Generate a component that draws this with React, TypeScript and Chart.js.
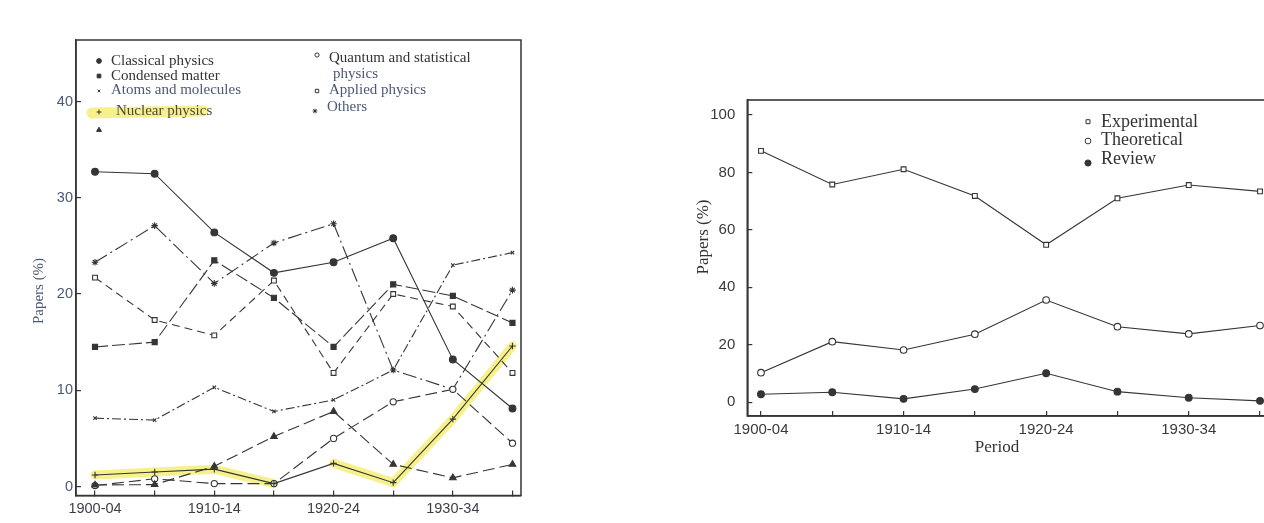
import React, { useEffect, useRef } from 'react';
import { Chart, registerables } from 'chart.js';
import { drawPoint } from 'chart.js/helpers';

Chart.register(...registerables);

// ---------- data ----------
const periods = ['1900-04', '1905-09', '1910-14', '1915-19', '1920-24', '1925-29', '1930-34', '1935-39'];

// left panel: papers (%) by field
const classicalPhysics = [32.7, 32.5, 26.4, 22.2, 23.3, 25.8, 13.2, 8.1];
const condensedMatter = [14.5, 15.0, 23.5, 19.6, 14.5, 21.0, 19.8, 17.0];
const atomsMolecules = [7.1, 6.9, 10.3, 7.8, 9.0, 12.1, 23.0, 24.3];
const nuclearPhysics = [1.2, 1.5, 1.8, 0.3, 2.4, 0.4, 7.0, 14.6];
const unlabeledField = [0.15, 0.2, 2.1, 5.2, 7.8, 2.3, 0.9, 2.3];
const quantumStatistical = [0.1, 0.8, 0.3, 0.3, 5.0, 8.8, 10.1, 4.5];
const appliedPhysics = [21.7, 17.3, 15.7, 21.4, 11.8, 20.0, 18.7, 11.8];
const otherFields = [23.3, 27.1, 21.1, 25.3, 27.3, 12.1, 10.1, 20.4];

// right panel: papers (%) by type
const experimental = [87.5, 75.8, 81.1, 71.8, 54.8, 71.0, 75.6, 73.4];
const theoretical = [10.3, 21.1, 18.2, 23.7, 35.6, 26.3, 23.8, 26.7];
const review = [2.8, 3.5, 1.2, 4.6, 10.1, 3.7, 1.6, 0.5];

const leftYTicks = { step: 10 };
const rightYTicks = { step: 20 };

// ---------- styles ----------
const INK = '#353535';
const BLUEINK = '#4c5877';
const HL = 'rgba(240, 232, 60, 0.6)';
const SERIF = '"Liberation Serif", "Times New Roman", serif';
const SANS = '"Liberation Sans", Arial, sans-serif';

const xy = (arr: number[]) => arr.map((y, x) => ({ x, y }));

const lineDs = (label: string, values: number[], extra: any) => ({
  type: 'line',
  label,
  data: xy(values),
  borderColor: INK,
  borderWidth: 1.1,
  pointBorderColor: INK,
  pointBorderWidth: 1.1,
  pointBackgroundColor: INK,
  fill: false,
  tension: 0,
  clip: false,
  ...extra,
});

// frame around the plot area
const makeFramePlugin = (color: string, width: number) => ({
  id: 'frame',
  afterDraw(chart: any) {
    const { ctx, chartArea: a } = chart;
    ctx.save();
    ctx.strokeStyle = color;
    ctx.lineWidth = width;
    ctx.strokeRect(a.left, a.top, a.right - a.left, a.bottom - a.top);
    ctx.restore();
  },
});

// axis titles
const makeTitlesPlugin = (items: any[]) => ({
  id: 'axisTitles',
  afterDraw(chart: any) {
    const { ctx } = chart;
    for (const t of items) {
      ctx.save();
      ctx.translate(t.x, t.y);
      ctx.rotate(t.rotate || 0);
      ctx.font = t.font;
      ctx.fillStyle = t.color;
      ctx.textAlign = 'center';
      ctx.textBaseline = 'middle';
      ctx.fillText(t.text, 0, 0);
      ctx.restore();
    }
  },
});

// free-placed legend that reads labels & markers from the datasets
const makeLegendPlugin = (entries: any[], font: string) => ({
  id: 'freeLegend',
  afterDraw(chart: any) {
    const { ctx } = chart;
    ctx.save();
    for (const e of entries) {
      const ds = chart.data.datasets[e.ds];
      if (e.highlight) {
        ctx.save();
        ctx.strokeStyle = HL;
        ctx.lineWidth = e.highlight.w;
        ctx.lineCap = 'round';
        ctx.beginPath();
        ctx.moveTo(e.highlight.x0, e.highlight.y0);
        ctx.lineTo(e.highlight.x1, e.highlight.y1);
        ctx.stroke();
        ctx.restore();
      }
      ctx.save();
      ctx.fillStyle = ds.pointBackgroundColor;
      ctx.strokeStyle = ds.pointBorderColor;
      ctx.lineWidth = 1;
      drawPoint(ctx, { pointStyle: ds.pointStyle, radius: e.r, rotation: 0, borderWidth: 1 }, e.mx, e.my);
      ctx.restore();
      if (ds.label) {
        ctx.font = font;
        ctx.fillStyle = e.color || INK;
        ctx.textAlign = 'left';
        ctx.textBaseline = 'middle';
        const words = String(ds.label).split(' ');
        let first = ds.label;
        let rest = '';
        if (e.maxWidth && ctx.measureText(ds.label).width > e.maxWidth) {
          let i = words.length;
          while (i > 1 && ctx.measureText(words.slice(0, i).join(' ')).width > e.maxWidth) i--;
          first = words.slice(0, i).join(' ');
          rest = words.slice(i).join(' ');
        }
        ctx.fillText(first, e.tx, e.ty);
        if (rest) {
          ctx.fillStyle = e.color2 || ctx.fillStyle;
          ctx.fillText(rest, e.tx2, e.ty2);
        }
      }
    }
    ctx.restore();
  },
});

const periodTick = (v: any) => {
  const i = Number(v);
  return Number.isInteger(i) && i % 2 === 0 ? periods[i] : '';
};

export default function App() {
  const leftRef = useRef<HTMLCanvasElement>(null);
  const rightRef = useRef<HTMLCanvasElement>(null);

  useEffect(() => {
    const left = new Chart(leftRef.current as HTMLCanvasElement, {
      type: 'line',
      data: {
        datasets: [
          lineDs('Classical physics', classicalPhysics, { pointStyle: 'circle', pointRadius: 3.4 }),
          lineDs('Condensed matter', condensedMatter, { pointStyle: 'rect', pointRadius: 3.6, borderDash: [13, 4] }),
          lineDs('Atoms and molecules', atomsMolecules, { pointStyle: 'crossRot', pointRadius: 2.4, borderDash: [9, 3, 2, 3] }),
          lineDs('Nuclear physics', nuclearPhysics, { pointStyle: 'cross', pointRadius: 3.2 }),
          lineDs('', unlabeledField, { pointStyle: 'triangle', pointRadius: 3.8, borderDash: [12, 5] }),
          lineDs('Quantum and statistical physics', quantumStatistical, {
            pointStyle: 'circle', pointRadius: 3.1, pointBackgroundColor: '#ffffff', borderDash: [12, 5],
          }),
          lineDs('Applied physics', appliedPhysics, {
            pointStyle: 'rect', pointRadius: 3.4, pointBackgroundColor: '#ffffff', borderDash: [8, 5],
          }),
          lineDs('Others', otherFields, { pointStyle: 'star', pointRadius: 3.3, borderDash: [14, 4, 2, 4] }),
          {
            type: 'line',
            label: 'highlight',
            data: xy(nuclearPhysics),
            borderColor: HL,
            borderWidth: 9,
            borderCapStyle: 'round',
            pointRadius: 0,
            tension: 0,
            order: 20,
            clip: false,
            segment: { borderColor: (c: any) => (c.p0DataIndex === 3 ? 'rgba(0,0,0,0)' : HL) },
          },
        ],
      } as any,
      options: {
        responsive: false,
        animation: false,
        devicePixelRatio: 1,
        events: [],
        layout: { padding: { left: 0, top: 40, right: 9, bottom: 0 } },
        plugins: { legend: { display: false }, tooltip: { enabled: false } },
        scales: {
          x: {
            type: 'linear',
            min: -0.319,
            max: 7.143,
            afterFit: (s: any) => { s.height = 27.5; },
            border: { display: true, color: INK, width: 1.5 },
            grid: { drawOnChartArea: false, drawTicks: true, tickLength: -5, color: INK, lineWidth: 1.2 },
            ticks: {
              stepSize: 1, includeBounds: false, autoSkip: false, maxRotation: 0, padding: 9.6,
              color: '#3d3d48', font: { family: SANS, size: 14.5 }, callback: periodTick,
            },
          },
          y: {
            min: -0.935,
            max: 46.39,
            afterFit: (s: any) => { s.width = 76; },
            border: { display: true, color: INK, width: 1.5 },
            grid: { drawOnChartArea: false, drawTicks: true, tickLength: -5, color: INK, lineWidth: 1.2 },
            ticks: {
              stepSize: leftYTicks.step, includeBounds: false, padding: 8,
              color: BLUEINK, font: { family: SANS, size: 14.5 },
            },
          },
        },
      } as any,
      plugins: [
        makeFramePlugin(INK, 1.5),
        makeTitlesPlugin([
          { text: 'Papers (%)', x: 39, y: 291, rotate: -Math.PI / 2, font: `15px ${SERIF}`, color: BLUEINK },
        ]),
        makeLegendPlugin(
          [
            { ds: 0, mx: 99, my: 61, r: 2.4, tx: 111, ty: 61, color: '#333' },
            { ds: 1, mx: 99, my: 76, r: 2.6, tx: 111, ty: 76, color: '#333' },
            { ds: 2, mx: 99, my: 91, r: 1.9, tx: 111, ty: 90.5, color: BLUEINK },
            {
              ds: 3, mx: 99, my: 112, r: 2.4, tx: 116, ty: 111, color: '#4a4a44',
              highlight: { x0: 92, y0: 113, x1: 203, y1: 111, w: 11 },
            },
            { ds: 4, mx: 99, my: 130, r: 2.8 },
            { ds: 5, mx: 317, my: 55, r: 2.1, tx: 329, ty: 58, color: '#333', maxWidth: 170, tx2: 333, ty2: 74, color2: BLUEINK },
            { ds: 6, mx: 317, my: 91, r: 2.4, tx: 329, ty: 90, color: BLUEINK },
            { ds: 7, mx: 315, my: 111, r: 2.3, tx: 327, ty: 107, color: BLUEINK },
          ],
          `15px ${SERIF}`,
        ),
      ],
    });

    const right = new Chart(rightRef.current as HTMLCanvasElement, {
      type: 'line',
      data: {
        datasets: [
          lineDs('Experimental', experimental, { pointStyle: 'rect', pointRadius: 3.4, pointBackgroundColor: '#ffffff' }),
          lineDs('Theoretical', theoretical, { pointStyle: 'circle', pointRadius: 3.3, pointBackgroundColor: '#ffffff' }),
          lineDs('Review', review, { pointStyle: 'circle', pointRadius: 3.4 }),
        ],
      } as any,
      options: {
        responsive: false,
        animation: false,
        devicePixelRatio: 1,
        events: [],
        layout: { padding: { left: 0, top: 100, right: 12, bottom: 0 } },
        plugins: { legend: { display: false }, tooltip: { enabled: false } },
        scales: {
          x: {
            type: 'linear',
            min: -0.192,
            max: 7.112,
            afterFit: (s: any) => { s.height = 107; },
            border: { display: true, color: INK, width: 1.6 },
            grid: { drawOnChartArea: false, drawTicks: true, tickLength: -5, color: INK, lineWidth: 1.2 },
            ticks: {
              stepSize: 1, includeBounds: false, autoSkip: false, maxRotation: 0, padding: 10,
              color: '#3a3a3a', font: { family: SANS, size: 15 }, callback: periodTick,
            },
          },
          y: {
            min: -4.77,
            max: 105.2,
            afterFit: (s: any) => { s.width = 57.3; },
            border: { display: true, color: INK, width: 1.6 },
            grid: { drawOnChartArea: false, drawTicks: true, tickLength: -5, color: INK, lineWidth: 1.2 },
            ticks: {
              stepSize: rightYTicks.step, includeBounds: false, padding: 17,
              color: '#3a3a3a', font: { family: SANS, size: 15 },
            },
          },
        },
      } as any,
      plugins: [
        makeFramePlugin(INK, 1.6),
        makeTitlesPlugin([
          { text: 'Papers (%)', x: 14, y: 237, rotate: -Math.PI / 2, font: `17px ${SERIF}`, color: '#333' },
          { text: 'Period', x: 307, y: 448, rotate: 0, font: `17px ${SERIF}`, color: '#333' },
        ]),
        makeLegendPlugin(
          [
            { ds: 0, mx: 398, my: 121.7, r: 2.8, tx: 411, ty: 122.5, color: '#333' },
            { ds: 1, mx: 398, my: 141, r: 2.9, tx: 411, ty: 140.5, color: '#333' },
            { ds: 2, mx: 398, my: 163, r: 3.1, tx: 411, ty: 159, color: '#333' },
          ],
          `18px ${SERIF}`,
        ),
      ],
    });

    return () => {
      left.destroy();
      right.destroy();
    };
  }, []);

  return (
    <div
      style={{
        position: 'absolute', left: 0, top: 0, width: 1264, height: 523,
        overflow: 'hidden', background: '#ffffff',
      }}
    >
      <canvas ref={leftRef} width={530} height={523} style={{ position: 'absolute', left: 0, top: 0 }} />
      <canvas ref={rightRef} width={590} height={523} style={{ position: 'absolute', left: 690, top: 0 }} />
    </div>
  );
}
